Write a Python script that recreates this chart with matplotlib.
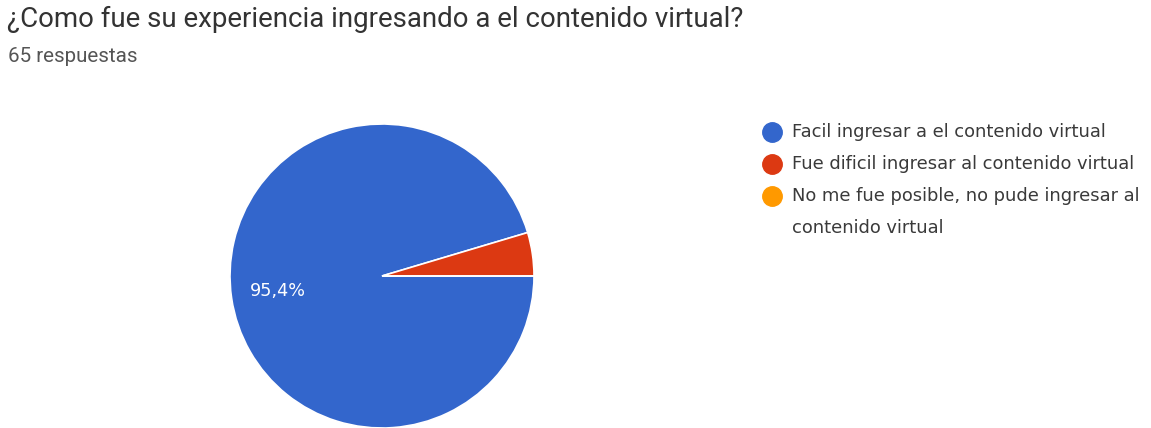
import matplotlib
matplotlib.use("Agg")
import matplotlib.pyplot as plt

# survey data (65 respuestas)
labels = [
    "Facil ingresar a el contenido virtual",
    "Fue dificil ingresar al contenido virtual",
    "No me fue posible, no pude ingresar al\ncontenido virtual",
]
counts = [62, 3, 0]
colors = ["#3366CC", "#DC3912", "#FF9900"]
title = "¿Como fue su experiencia ingresando a el contenido virtual?"
subtitle = "65 respuestas"

W, H = 1151, 428
fig = plt.figure(figsize=(W / 100, H / 100), dpi=100)
ax = fig.add_axes([0, 0, 1, 1])


def pct_label(p):
    if p < 5:
        return ""
    return f"{p:.1f}%".replace(".", ",")


wedges, texts, autotexts = ax.pie(
    counts, colors=colors, startangle=0, counterclock=False,
    center=(382, H - 276), radius=152, autopct=pct_label, pctdistance=0.69,
    wedgeprops=dict(edgecolor="white", linewidth=1.2),
    textprops=dict(color="white", fontsize=12.7, family="DejaVu Sans"),
)
ax.set_xlim(0, W)
ax.set_ylim(0, H)
ax.set_aspect("equal")
ax.axis("off")

ax.text(7, H - 27, title, fontsize=19.9, family="Roboto", color="#333333", va="baseline")
ax.text(8, H - 62, subtitle, fontsize=14.8, family="Roboto", color="#555555", va="baseline")

# legend, drawn by hand like google charts
rows_y = [132, 164, 196]
line_gap = 32
for lab, col, y in zip(labels, colors, rows_y):
    ax.plot(772, H - y, "o", color=col, markersize=14)
    for i, part in enumerate(lab.split("\n")):
        ax.text(792, H - y - i * line_gap, part, fontsize=12.9, family="DejaVu Sans",
                color="#3a3a3a", va="center")

fig.savefig("out.png", dpi=100)
